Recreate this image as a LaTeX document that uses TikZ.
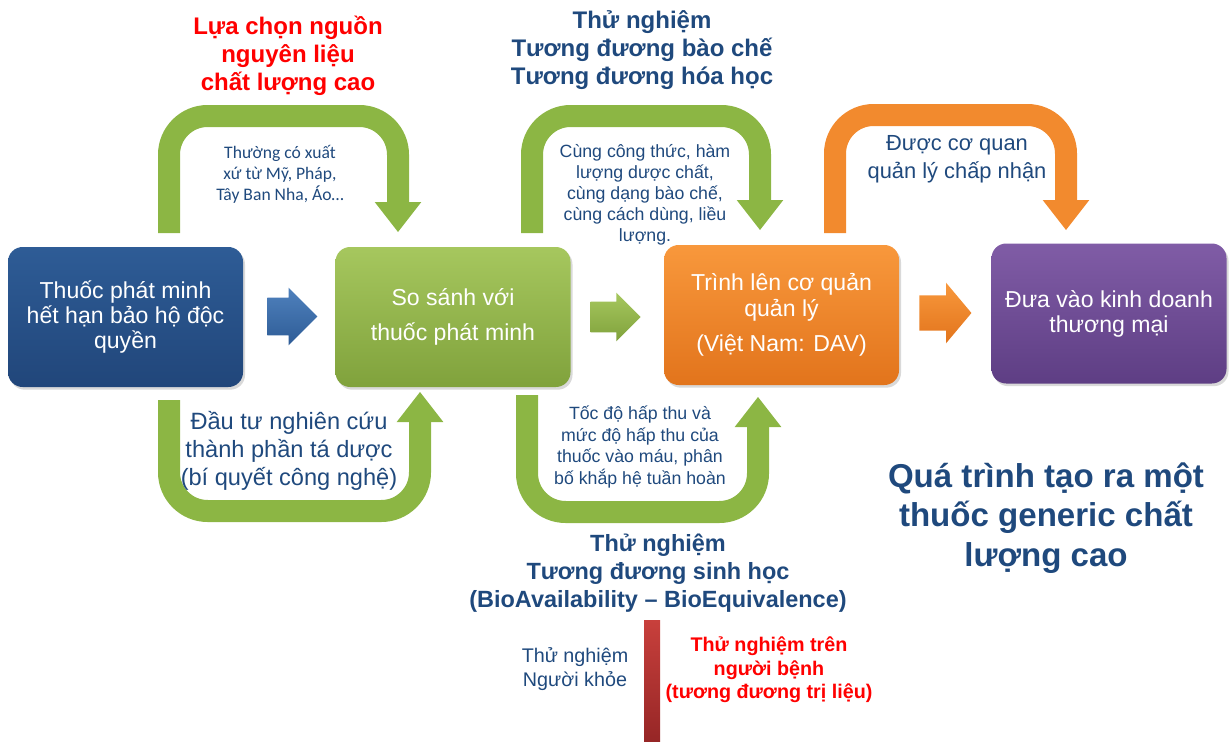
\documentclass[tikz,border=0pt]{standalone}
\usepackage{fontspec}
\setmainfont{Liberation Sans}
\newfontfamily\calibrifont{Carlito}
\usetikzlibrary{shapes.arrows,shadows,arrows.meta}
\definecolor{textblue}{RGB}{31,73,125}
\definecolor{blueTop}{RGB}{46,92,150}
\definecolor{blueBot}{RGB}{33,70,122}
\definecolor{arrowBlue}{RGB}{79,129,189}
\definecolor{greenTop}{RGB}{166,199,94}
\definecolor{greenBot}{RGB}{128,162,60}
\definecolor{orangeTop}{RGB}{248,152,60}
\definecolor{orangeBot}{RGB}{226,116,28}
\definecolor{purpleTop}{RGB}{128,92,166}
\definecolor{purpleBot}{RGB}{94,62,132}
\definecolor{loopgreen}{RGB}{140,182,68}
\definecolor{looporange}{RGB}{242,138,46}
\definecolor{barTop}{RGB}{200,64,60}
\definecolor{barBot}{RGB}{150,38,38}

\tikzset{
  stage/.style={rounded corners=11pt, minimum width=176.25pt, minimum height=105pt,
    align=center, text=white, font=\fontsize{17.3}{18.75}\selectfont,
    drop shadow={opacity=0.3, shadow xshift=1.5pt, shadow yshift=-2pt}},
  blockarrow/.style={single arrow, inner xsep=0pt, draw=none},
  loop/.style={line width=16.5pt, rounded corners=29pt,
    -{Triangle[width=35pt,length=22.5pt,line width=0pt]}},
  note/.style={align=center, text=textblue},
  title/.style={align=center, text=textblue, font=\bfseries\fontsize{18}{21}\selectfont}
}

\begin{document}
\begin{tikzpicture}[x=0.75pt,y=-0.75pt]
\useasboundingbox (0,0) rectangle (1231,742);

% Stages
\node[stage, top color=blueTop, bottom color=blueBot] (patent) at (125.5,317) {Thuốc phát minh\\hết hạn bảo hộ độc\\quyền};
\node[stage, top color=greenTop, bottom color=greenBot, font=\fontsize{17.3}{26.25}\selectfont] (compare) at (453,317) {So sánh với\\thuốc phát minh};
\node[stage, top color=orangeTop, bottom color=orangeBot, font=\fontsize{17.3}{19.5}\selectfont] (submit) at (781.5,315) {Trình lên cơ quản\\quản lý\\[7pt](Việt Nam: DAV)};
\node[stage, top color=purpleTop, bottom color=purpleBot] (market) at (1109,313.5) {Đưa vào kinh doanh\\thương mại};

% Steps between stages
\node[blockarrow, top color=arrowBlue, bottom color=blueTop, inner ysep=13.9pt, minimum height=37.5pt, single arrow head extend=7.5pt] (a1) at (283,316.5) {};
\node[blockarrow, top color=greenTop, bottom color=greenBot, inner ysep=11.25pt, minimum height=37.5pt, single arrow head extend=6.75pt] (a2) at (608,317) {};
\node[blockarrow, top color=orangeTop, bottom color=orangeBot, inner ysep=13.1pt, minimum height=39pt, single arrow head extend=9.4pt, single arrow tip angle=100] (a3) at (938,313) {};

% Loops above
\coordinate (l1a) at (169,233);
\coordinate (l1b) at (398,232);
\coordinate (l2a) at (532,233);
\coordinate (l2b) at (760,230);
\coordinate (l3a) at (835,233);
\coordinate (l3b) at (1066,230);
\draw[loop, loopgreen] (l1a) |- (283,116) -| (l1b);
\draw[loop, loopgreen] (l2a) |- (646,116) -| (l2b);
\draw[loop, looporange] (l3a) |- (950,115) -| (l3b);

% Loops below
\coordinate (l4a) at (169,400);
\coordinate (l4b) at (420,392);
\coordinate (l5a) at (527,395);
\coordinate (l5b) at (758,397);
\draw[loop, loopgreen] (l4a) |- (294,511) -| (l4b);
\draw[loop, loopgreen] (l5a) |- (642,512) -| (l5b);

% Labels
\node[title, text=red] (source) at (288,56) {Lựa chọn nguồn\\nguyên liệu\\chất lượng cao};
\node[title] (pharma) at (642,50) {Thử nghiệm\\Tương đương bào chế\\Tương đương hóa học};
\node[note, font=\calibrifont\fontsize{13.2}{15.75}\selectfont] (origin) at (280,174) {Thường có xuất\\xứ từ Mỹ, Pháp,\\Tây Ban Nha, Áo…};
\node[note, font=\fontsize{13.3}{15.75}\selectfont] (same) at (645,195) {Cùng công thức, hàm\\lượng dược chất,\\cùng dạng bào chế,\\cùng cách dùng, liều\\lượng.};
\node[note, font=\fontsize{16.4}{21}\selectfont] (accept) at (957,159) {Được cơ quan\\quản lý chấp nhận};
\node[note, font=\fontsize{17.7}{21}\selectfont] (excip) at (289,451) {Đầu tư nghiên cứu\\thành phần tá dược\\(bí quyết công nghệ)};
\node[note, font=\fontsize{13.3}{16.3}\selectfont] (absorb) at (640,447) {Tốc độ hấp thu và\\mức độ hấp thu của\\thuốc vào máu, phân\\bố khắp hệ tuần hoàn};
\node[title, font=\bfseries\fontsize{17.6}{21}\selectfont] (bio) at (658,573) {Thử nghiệm\\Tương đương sinh học\\(BioAvailability – BioEquivalence)};
\node[title, font=\bfseries\fontsize{24.8}{29.6}\selectfont] (heading) at (1046,518) {Quá trình tạo ra một\\thuốc generic chất\\lượng cao};

% Healthy vs patients
\shade[top color=barTop, bottom color=barBot] (644,620) rectangle (660,742);
\node[note, font=\fontsize{14.8}{18}\selectfont] (healthy) at (575,669) {Thử nghiệm\\Người khỏe};
\node[title, text=red, font=\bfseries\fontsize{14.8}{17.6}\selectfont] (patient) at (769,670) {Thử nghiệm trên\\người bệnh\\(tương đương trị liệu)};

\end{tikzpicture}
\end{document}
